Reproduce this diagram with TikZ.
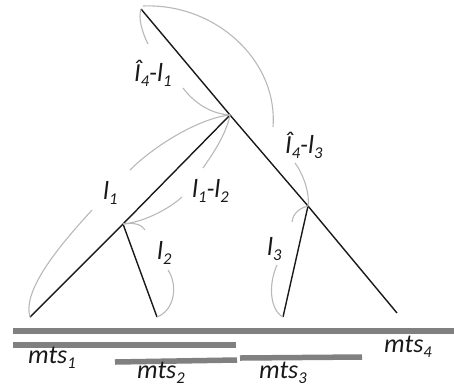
\documentclass[tikz,border=0pt]{standalone}
\usepackage{fontspec}
\setmainfont{Carlito}
\newcommand\sbx[1]{\raisebox{-0.22em}{\fontsize{16.5}{16.5}\selectfont #1}}
\begin{document}
\begin{tikzpicture}[x=1pt,y=-1pt,
  branch/.style={line width=1.4pt,black!90},
  bar/.style={line width=5.5pt,black!50},
  arc/.style={line width=1.1pt,black!28},
  lab/.style={inner sep=0pt,anchor=base west,font=\itshape\fontsize{26}{26}\selectfont,text=black!90}]
\useasboundingbox (0,0) rectangle (454,389);
% tree vertices
\coordinate (top) at (141,9);
\coordinate (n1) at (230,115);
\coordinate (n2) at (123,224);
\coordinate (n3) at (308,206);
\coordinate (L1) at (30,317);
\coordinate (L2) at (157,317);
\coordinate (L3) at (283,317);
\coordinate (L4) at (397,313);
\draw[branch] (top) -- (n1) -- (n3) -- (L4);
\draw[branch] (n1) -- (n2) -- (L1);
\draw[branch] (n2) -- (L2);
\draw[branch] (n3) -- (L3);
% bars
\coordinate (b4a) at (13,331); \coordinate (b4b) at (454,331);
\coordinate (b1a) at (13,345); \coordinate (b1b) at (236,345);
\coordinate (b2a) at (115,362); \coordinate (b2b) at (237,360);
\coordinate (b3a) at (240,358); \coordinate (b3b) at (362,357);
\draw[bar] (b4a) -- (b4b);
\draw[bar] (b1a) -- (b1b);
\draw[bar] (b2a) -- (b2b);
\draw[bar] (b3a) -- (b3b);
% labels
\node[lab] (t41) at (134,81) {Î\sbx{4}-l\sbx{1}};
\node[lab] (t43) at (285,153) {Î\sbx{4}-l\sbx{3}};
\node[lab] (t12) at (192,197) {l\sbx{1}-l\sbx{2}};
\node[lab] (t1) at (103,199) {l\sbx{1}};
\node[lab] (t2) at (157,259) {l\sbx{2}};
\node[lab] (t3) at (267,255) {l\sbx{3}};
\node[lab] (m1) at (28,363) {mts\sbx{1}};
\node[lab] (m2) at (137,378) {mts\sbx{2}};
\node[lab] (m3) at (259,378) {mts\sbx{3}};
\node[lab] (m4) at (384,352) {mts\sbx{4}};
% arc ends
\coordinate (a1) at (148,44);
\coordinate (a2) at (183,88);
\coordinate (a3) at (273,127);
\coordinate (a4) at (295,163);
\coordinate (a5) at (130,170);
\coordinate (a6) at (92,210);
\coordinate (a7) at (203,168);
\coordinate (a8) at (182,197);
\coordinate (a9) at (168,270);
\coordinate (a10) at (292,222);
\coordinate (a11) at (277,265);
\coordinate (tt) at (143,6);
\coordinate (bb) at (145,230);
% annotation arcs
\draw[arc] (a1) .. controls (142,32) and (138,18) .. (top);
\draw[arc] (tt) .. controls (215,3) and (278,60) .. (a3);
\draw[arc] (a2) .. controls (195,104) and (212,114) .. (n1);
\draw[arc] (n1) .. controls (200,118) and (155,145) .. (a5);
\draw[arc] (a6) .. controls (60,245) and (22,290) .. (L1);
\draw[arc] (n1) .. controls (226,135) and (212,155) .. (a7);
\draw[arc] (a8) .. controls (170,208) and (145,222) .. (n2);
\draw[arc] (n2) .. controls (135,222) and (142,225) .. (bb);
\draw[arc] (a9) .. controls (178,285) and (175,310) .. (L2);
\draw[arc] (a4) .. controls (304,175) and (310,195) .. (n3);
\draw[arc] (a10) .. controls (293,213) and (300,208) .. (n3);
\draw[arc] (a11) .. controls (268,285) and (270,310) .. (L3);
\end{tikzpicture}
\end{document}
